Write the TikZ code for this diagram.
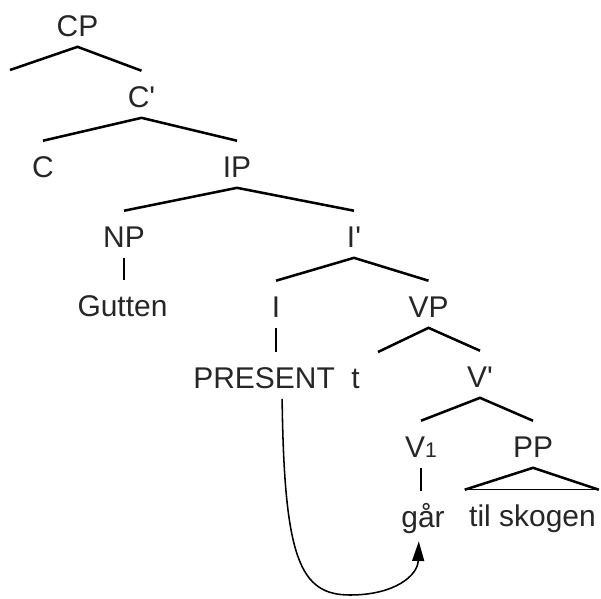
\documentclass[tikz,border=0pt]{standalone}
\usepackage{fontspec}
\setmainfont{Liberation Sans}
\usetikzlibrary{arrows.meta}

\newcommand{\idx}[1]{{\fontsize{15pt}{15pt}\selectfont #1}}

\tikzset{
  cat/.style = {anchor=base, inner sep=0pt, text height=25.6pt, text depth=7.5pt,
                font=\fontsize{21.3pt}{25pt}\selectfont, text=black!85},
  branch/.style = {line width=1.8pt},
  stem/.style = {line width=1.1pt},
  move/.style = {line width=1.1pt, -{Triangle[length=14pt, width=8.5pt]}}
}

\begin{document}
\begin{tikzpicture}[x=0.025cm, y=-0.025cm]
\useasboundingbox (0,0) rectangle (601,599);

\node[cat] (cp) at (77.5,36) {CP};
\coordinate (spec) at (10,70);
\node[cat] (cbar) at (141.5,107) {C\textquotesingle};
\node[cat] (c) at (43,177) {C};
\node[cat] (ip) at (237,177) {IP};
\node[cat] (np) at (124,247) {NP};
\node[cat] (ibar) at (354,247) {I\textquotesingle};
\node[cat] (gutten) at (122.5,316) {Gutten};
\node[cat] (i) at (276,317) {I};
\node[cat] (vp) at (428.5,317) {VP};
\node[cat] (pres) at (276.5,388) {PRESENT\hspace{0.55em}t};
\coordinate (vspec) at (378,352);
\node[cat] (vbar) at (480,387) {V\textquotesingle};
\node[cat] (v) at (421,457) {V\idx{1}};
\node[cat] (pp) at (533,457) {PP};
\node[cat] (gar) at (423,527) {går};
\node[cat] (skog) at (532.5,526) {til skogen};
\coordinate (low) at (350,595);

\draw[branch] (spec) -- (cp.south) -- (cbar.north);
\draw[branch] (c.north) -- (cbar.south) -- (ip.north);
\draw[branch] (np.north) -- (ip.south) -- (ibar.north);
\draw[branch] (i.north) -- (ibar.south) -- (vp.north);
\draw[branch] (vspec) -- (vp.south) -- (vbar.north);
\draw[branch] (v.north) -- (vbar.south) -- (pp.north);

\draw[stem] (np.south) -- (gutten.north -| np.south);
\draw[stem] (i.south) -- (pres.north -| i.south);
\draw[stem] (v.south) -- (gar.north -| v.south);

% roof over the PP
\draw[branch] ([xshift=-3pt]skog.north west) -- (pp.south) -- ([xshift=2pt]skog.north east);
\draw[stem] ([xshift=-3pt]skog.north west) -- ([xshift=2pt]skog.north east);

% head movement of the verb
\draw[move] ([xshift=4pt]pres.south) .. controls +(2,160) and +(-50,0) .. (low)
  .. controls +(45,0) and +(-1,34) .. ([shift={(-3pt,-2.5pt)}]gar.south);

\end{tikzpicture}
\end{document}
